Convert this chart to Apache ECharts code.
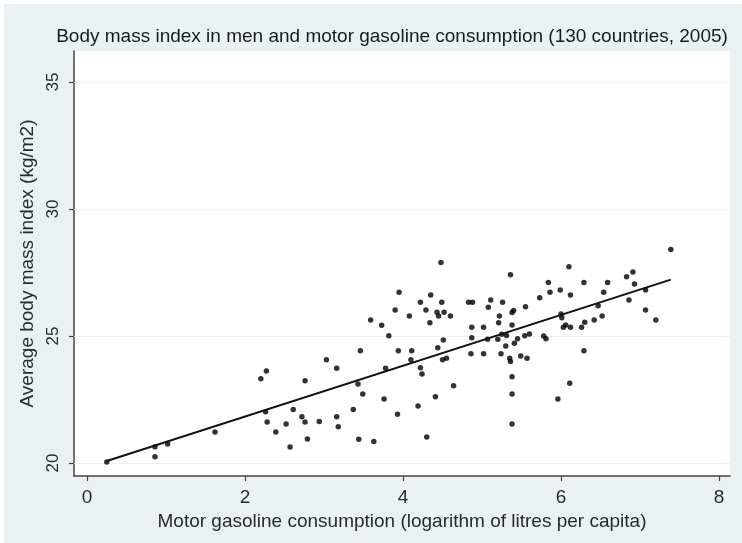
<!DOCTYPE html>
<html><head><meta charset="utf-8">
<script src="https://cdn.jsdelivr.net/npm/echarts@6/dist/echarts.min.js"></script>
<style>
html,body{margin:0;padding:0;background:#ffffff;}
#c{position:absolute;left:4px;top:4px;width:738px;height:539px;}
</style>
</head><body><div id="c"></div>
<script>
const titleText = 'Body mass index in men and motor gasoline consumption (130 countries, 2005)';
const xAxisTitle = 'Motor gasoline consumption (logarithm of litres per capita)';
const yAxisTitle = 'Average body mass index (kg/m2)';
const xTicks = [0, 2, 4, 6, 8];
const yTicks = [20, 25, 30, 35];

const gasoline = [
  0.25, 0.86, 0.86, 1.02, 1.62, 2.20, 2.27, 2.26, 2.28, 2.39, 2.52, 2.57, 2.61, 2.72, 2.76, 2.79, 2.76,
  3.95, 3.90, 4.08, 3.59, 3.73, 3.82, 3.46, 3.94, 4.11, 3.03, 3.16, 4.10, 3.78, 3.43, 3.49, 3.76, 4.19,
  3.37, 2.94, 3.16, 3.18, 3.93, 3.44, 3.63,
  4.48, 5.36, 4.22, 4.35, 4.49, 4.29, 4.43, 4.45, 4.52, 4.60, 4.34, 4.83, 4.88, 5.11, 5.08, 5.26, 5.55,
  5.38, 5.40, 5.22, 5.21, 5.38, 4.87, 5.02, 4.87, 4.51, 4.44, 5.07, 5.20, 5.25, 5.31, 5.41, 5.45, 5.54,
  5.60, 5.30, 4.86, 5.02, 5.24, 4.50, 4.55, 5.35, 5.36, 5.49, 5.57, 4.22, 4.24, 5.38, 4.64, 5.38, 4.41,
  4.30, 5.38,
  6.10, 5.84, 6.29, 6.59, 6.83, 6.91, 6.93, 5.73, 5.86, 5.99, 6.12, 6.54, 6.86, 7.07, 7.07, 6.47, 6.00,
  6.01, 6.52, 6.42, 6.30, 6.26, 6.06, 6.03, 6.12, 5.78, 5.81, 6.29, 6.11, 5.96,
  7.39, 7.20
];
const bmi = [
  20.04, 20.64, 20.25, 20.75, 21.22, 23.32, 23.62, 22.02, 21.61, 21.22, 21.54, 20.63, 22.11, 21.82, 21.61, 20.94, 23.24,
  26.72, 26.02, 25.79, 25.63, 25.42, 25.01, 24.42, 24.42, 24.42, 24.06, 23.73, 24.06, 23.73, 23.11, 22.72, 22.52, 22.24,
  22.11, 21.63, 21.82, 21.43, 21.92, 20.93, 20.85,
  27.89, 27.41, 26.33, 26.61, 26.33, 26.02, 25.93, 25.79, 25.93, 25.79, 25.52, 26.33, 26.33, 26.42, 26.13, 26.33, 26.15,
  25.92, 26.00, 25.79, 25.52, 25.43, 25.34, 25.34, 24.93, 24.84, 24.54, 24.87, 24.87, 25.07, 25.02, 24.71, 24.89, 25.01,
  25.08, 24.61, 24.30, 24.30, 24.30, 24.06, 24.12, 24.12, 24.00, 24.21, 24.12, 23.75, 23.50, 23.40, 23.04, 22.72, 22.61,
  21.02, 21.54,
  27.73, 27.11, 27.11, 27.11, 27.33, 27.52, 27.05, 26.51, 26.72, 26.81, 26.61, 26.72, 26.42, 26.81, 26.02, 26.19, 25.87,
  25.72, 25.79, 25.63, 25.54, 25.34, 25.43, 25.34, 25.34, 25.00, 24.89, 24.42, 23.14, 22.52,
  28.41, 25.63
];
const fitX = [0.25, 7.39];
const fitY = [20.08, 27.22];

const points = gasoline.map((g, i) => [g, bmi[i]]);
const fitLine = fitX.map((g, i) => [g, fitY[i]]);

const font = '"Liberation Sans", Arial, sans-serif';
const chart = echarts.init(document.getElementById('c'), null, {renderer: 'canvas'});
chart.setOption({
  backgroundColor: '#eaf1f3',
  animation: false,
  title: {
    text: titleText,
    left: 383, top: 18, textAlign: 'center',
    textStyle: {fontFamily: font, fontSize: 19, fontWeight: 'normal', color: '#1a1a1a'}
  },
  grid: {left: 70, right: 12, top: 47, bottom: 67, show: true, backgroundColor: '#ffffff', borderWidth: 0},
  xAxis: {
    type: 'value', min: -0.165, max: 8.139,
    name: xAxisTitle, nameLocation: 'middle', nameGap: 30,
    nameTextStyle: {fontFamily: font, fontSize: 19, color: '#2a2a2a'},
    axisLine: {show: true, onZero: false, lineStyle: {color: '#444', width: 1.5}},
    axisTick: {show: true, length: 5, customValues: xTicks, lineStyle: {color: '#444', width: 1.2}},
    axisLabel: {customValues: xTicks, margin: 12, fontFamily: font, fontSize: 19, color: '#2a2a2a'},
    splitLine: {show: false}
  },
  yAxis: {
    type: 'value', min: 19.488, max: 36.22,
    name: yAxisTitle, nameLocation: 'middle', nameGap: 31, nameRotate: 90,
    nameTextStyle: {fontFamily: font, fontSize: 19, color: '#2a2a2a'},
    axisLine: {show: true, onZero: false, lineStyle: {color: '#444', width: 1.5}},
    axisTick: {show: true, length: 5, customValues: yTicks, lineStyle: {color: '#444', width: 1.2}},
    axisLabel: {customValues: yTicks, rotate: 90, margin: 12, fontFamily: font, fontSize: 17, color: '#2a2a2a'},
    splitLine: {show: false}
  },
  series: [
    {
      type: 'scatter', data: points, symbol: 'circle', symbolSize: 5.5,
      itemStyle: {color: '#000'}, z: 3,
      markLine: {
        silent: true, symbol: ['none', 'none'], label: {show: false},
        lineStyle: {color: '#edf2f3', width: 1.2, type: 'solid'},
        data: yTicks.map(v => ({yAxis: v})),
        z: 1
      }
    },
    {
      type: 'line', data: fitLine, showSymbol: false, symbol: 'none',
      lineStyle: {color: '#111', width: 2}, z: 4
    }
  ]
});
</script></body></html>
